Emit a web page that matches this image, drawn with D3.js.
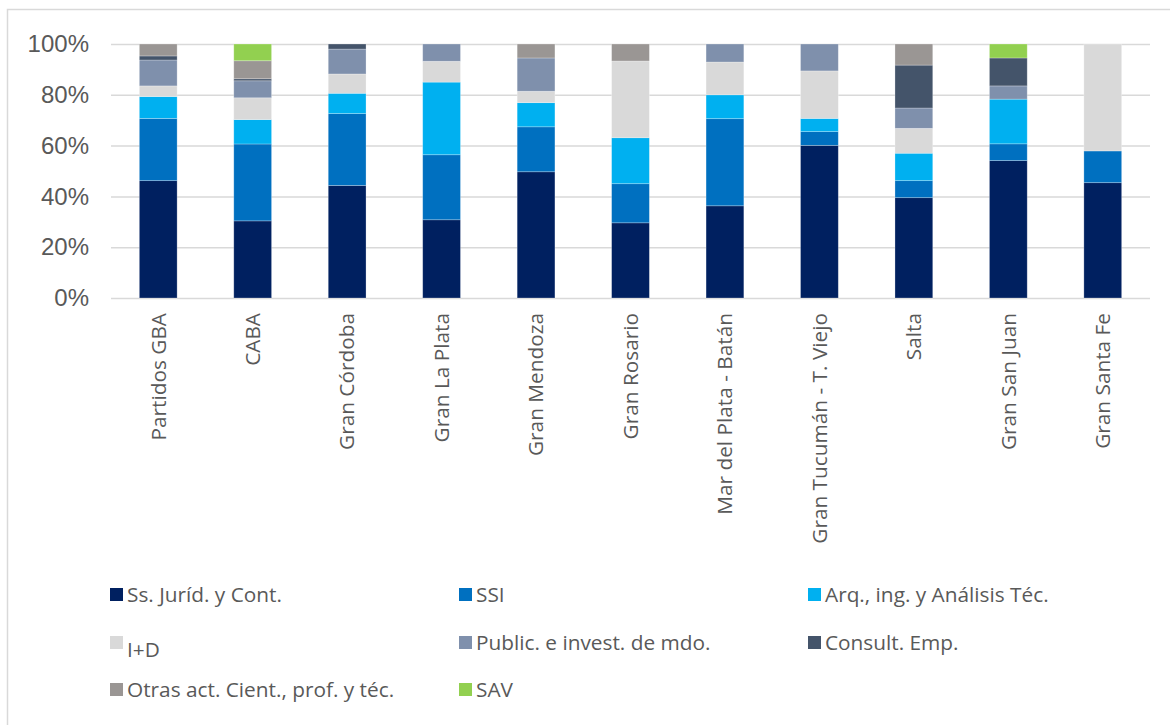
<!DOCTYPE html>
<html>
<head>
<meta charset="utf-8">
<script src="https://cdn.jsdelivr.net/npm/d3@7"></script>
<style>
  body { margin: 0; background: #fff; }
  svg { display: block; }
</style>
</head>
<body>
<div id="chart"></div>
<script>
// Categories (urban areas)
var categories = ["Partidos GBA", "CABA", "Gran Córdoba", "Gran La Plata", "Gran Mendoza", "Gran Rosario",
  "Mar del Plata - Batán", "Gran Tucumán - T. Viejo", "Salta", "Gran San Juan", "Gran Santa Fe"];

// Series names and colours
var seriesNames = ["Ss. Juríd. y Cont.", "SSI", "Arq., ing. y Análisis Téc.", "I+D", "Public. e invest. de mdo.",
  "Consult. Emp.", "Otras act. Cient., prof. y téc.", "SAV"];
var seriesColors = ["#002060", "#0070C0", "#00B0F0", "#D9D9D9", "#7F90AC", "#44546A", "#9A9694", "#92D050"];

// Shares (%) per category
var juridicos = [46.2, 30.4, 44.3, 30.8, 49.7, 29.6, 36.3, 60.1, 39.5, 54.1, 45.4];
var ssi       = [24.5, 30.3, 28.3, 25.6, 17.7, 15.4, 34.3, 5.4, 6.7, 6.6, 12.5];
var arq       = [8.6, 9.6, 8.0, 28.6, 9.5, 18.1, 9.4, 5.2, 10.8, 17.6, 0];
var iyd       = [4.2, 8.6, 7.6, 8.2, 4.5, 30.2, 12.9, 18.7, 9.8, 0, 42.1];
var publicidad = [10.2, 6.7, 9.8, 6.8, 13.1, 0, 7.1, 10.6, 8.0, 5.2, 0];
var consult   = [1.6, 0.8, 2.0, 0, 0, 0, 0, 0, 16.9, 11.0, 0];
var otras     = [4.7, 7.1, 0, 0, 5.5, 6.7, 0, 0, 8.3, 0, 0];
var sav       = [0, 6.6, 0, 0, 0, 0, 0, 0, 0, 5.5, 0];

var yTicks = [0, 0.2, 0.4, 0.6, 0.8, 1];

var seriesValues = [juridicos, ssi, arq, iyd, publicidad, consult, otras, sav];

var width = 1170, height = 725;

// build rows for d3.stack
var rows = categories.map(function(c, i) {
  var r = {cat: c};
  seriesNames.forEach(function(s, j) { r[s] = seriesValues[j][i]; });
  return r;
});

var stack = d3.stack().keys(seriesNames).offset(d3.stackOffsetExpand);
var layers = stack(rows);

var x = d3.scaleBand().domain(categories).range([111, 1150]).paddingInner(0.6).paddingOuter(0.3);
var y = d3.scaleLinear().domain([0, 1]).range([298, 44]);

var svg = d3.select("#chart").append("svg").attr("width", width).attr("height", height);

// chart border
svg.append("rect")
  .attr("x", 7.5).attr("y", 9.5)
  .attr("width", 1200).attr("height", 800)
  .attr("fill", "none").attr("stroke", "#d9d9d9").attr("stroke-width", 1.5);

// gridlines + y labels
var yAxis = d3.axisLeft(y).tickValues(yTicks).tickFormat(d3.format(".0%")).tickSize(-(1150 - 111)).tickPadding(22);
var gy = svg.append("g").attr("transform", "translate(111,0)").call(yAxis);
gy.select(".domain").remove();
gy.selectAll(".tick line").attr("stroke", "#d9d9d9").attr("stroke-width", 1.5);
gy.selectAll(".tick text")
  .attr("fill", "#595959")
  .style("font-family", "'Liberation Sans', Arial, sans-serif")
  .style("font-size", "24px");

// bars
var g = svg.selectAll(".layer")
  .data(layers)
  .enter().append("g")
  .attr("class", "layer")
  .attr("fill", function(d, i) { return seriesColors[i]; });

g.selectAll("rect")
  .data(function(d) { return d; })
  .enter().append("rect")
  .attr("x", function(d) { return x(d.data.cat); })
  .attr("width", x.bandwidth())
  .attr("y", function(d) { return y(d[1]); })
  .attr("height", function(d) { return y(d[0]) - y(d[1]); })
  .attr("stroke", "rgba(255,255,255,0.35)")
  .attr("stroke-width", 0.75);

// category labels (rotated)
var xAxis = d3.axisBottom(x).tickSize(0).tickPadding(0);
var gx = svg.append("g").attr("transform", "translate(0,298)").call(xAxis);
gx.select(".domain").remove();
gx.selectAll(".tick text")
  .attr("fill", "#595959")
  .style("font-family", "'Open Sans', sans-serif")
  .style("font-size", "20.8px")
  .attr("text-anchor", "end")
  .attr("transform", "rotate(-90)")
  .attr("x", -15)
  .attr("y", 0)
  .attr("dy", "0.35em");

// legend
var legendPos = [
  [110, 602], [459, 602], [808, 602],
  [110, 650], [459, 650], [808, 650],
  [110, 697], [459, 697]
];
var legend = svg.selectAll(".legend")
  .data(seriesNames)
  .enter().append("g")
  .attr("class", "legend")
  .attr("transform", function(d, i) { return "translate(" + legendPos[i][0] + "," + legendPos[i][1] + ")"; });

legend.append("rect")
  .attr("x", 0).attr("y", -14)
  .attr("width", 13).attr("height", 13)
  .attr("fill", function(d, i) { return seriesColors[i]; });

legend.append("text")
  .attr("x", 17)
  .attr("y", function(d) { return d === "I+D" ? 7 : 0; })
  .attr("fill", "#595959")
  .style("font-family", "'Open Sans', sans-serif")
  .style("font-size", "20.8px")
  .text(function(d) { return d; });
</script>
</body>
</html>
